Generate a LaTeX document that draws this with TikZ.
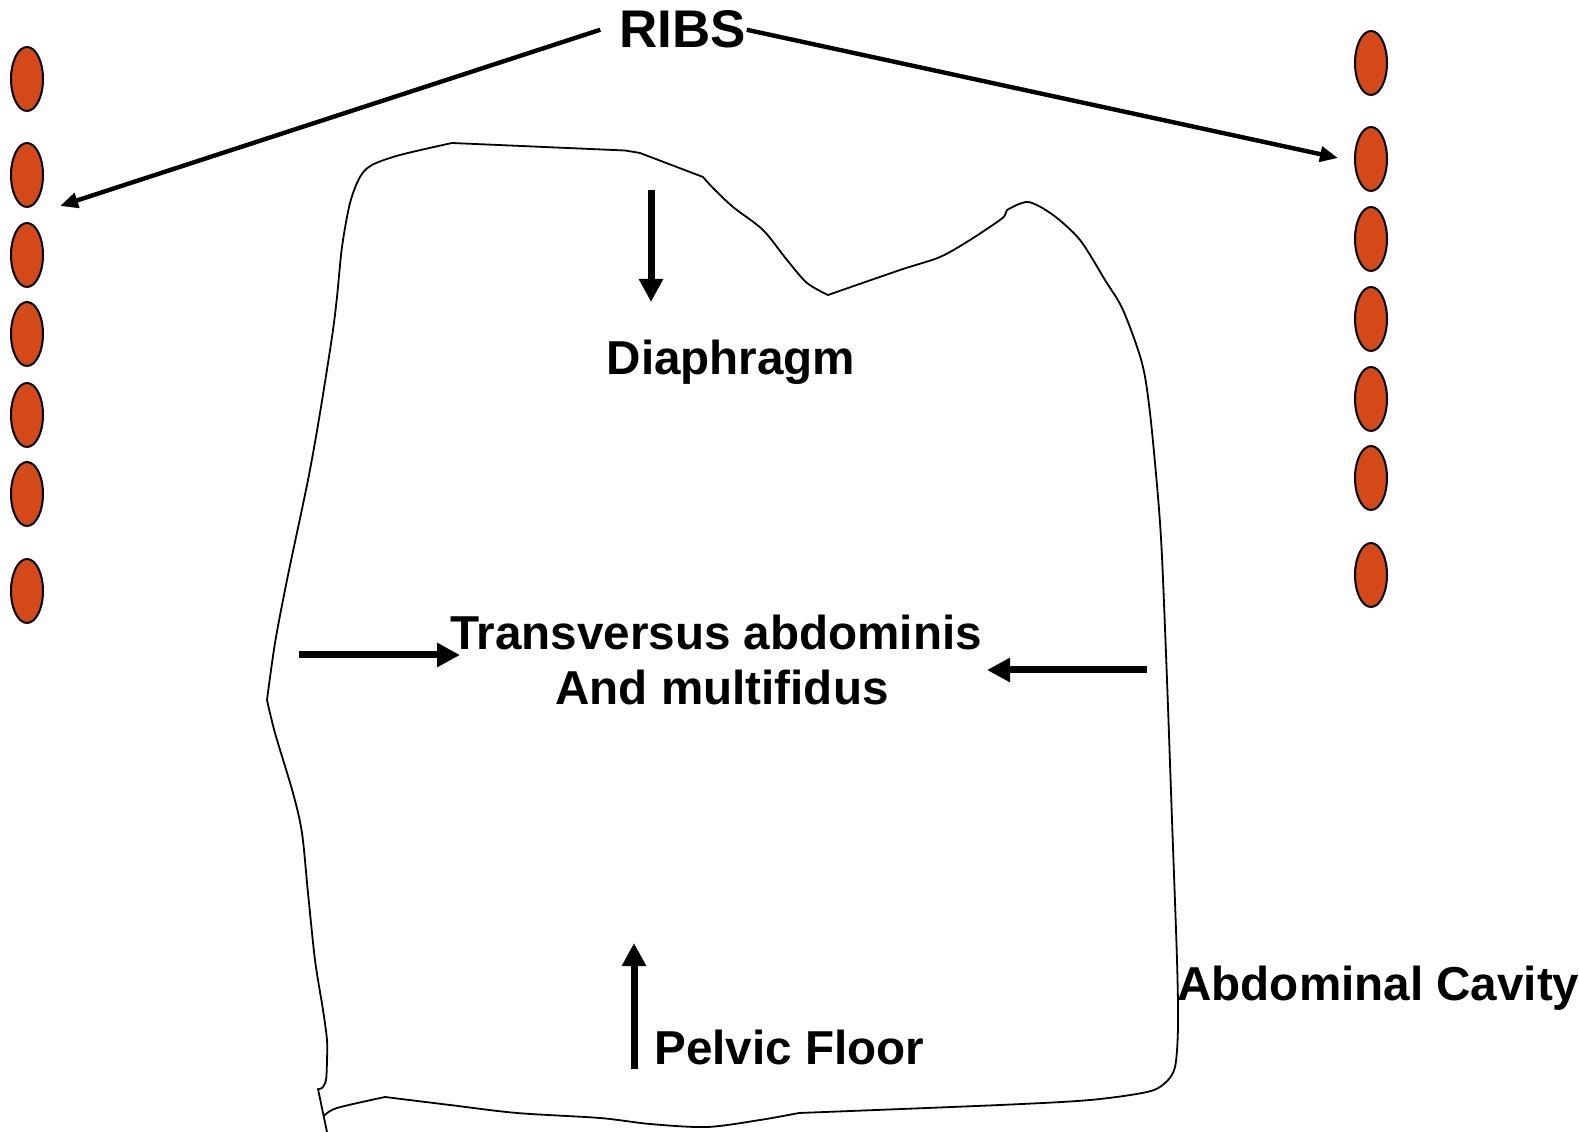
\documentclass[tikz,border=0pt]{standalone}
\usepackage{fontspec}
\setmainfont{Liberation Sans}
\usetikzlibrary{shapes.geometric}
\usetikzlibrary{arrows.meta}
\definecolor{ribred}{RGB}{211,74,24}

\begin{document}
\begin{tikzpicture}[x=0.5bp, y=-0.5bp,
  rib/.style={ellipse, draw, fill=ribred, line width=1bp,
    minimum width=16bp, minimum height=32bp, inner sep=0pt},
  tag/.style={font=\bfseries\fontsize{23.8bp}{28bp}\selectfont, inner sep=0pt},
  push/.style={line width=3.5bp, -{Triangle[length=11.5bp,width=11.5bp]}},
  pointer/.style={line width=2.2bp, -{Triangle[length=9bp,width=7.5bp]}},
  wall/.style={line width=0.9bp, line join=round}]

\useasboundingbox (0,0) rectangle (1579,1132);

%---------------------------------------
% Ribs
%---------------------------------------
\foreach \y [count=\i] in {79,175,255,334,415,494,591}
  \node[rib] (ribL\i) at (27,\y) {};
\foreach \y [count=\i] in {63,159,239,319,399,478,575}
  \node[rib] (ribR\i) at (1371,\y) {};

\node[tag, font=\bfseries\fontsize{26.5bp}{32bp}\selectfont, anchor=base]
  (ribs) at (683,48) {RIBS};

\coordinate (tipL) at (60,206);
\coordinate (tipR) at (1338,158);
\draw[pointer] ([xshift=-9.5bp]ribs.west) -- (tipL);
\draw[pointer] (ribs.east) -- (tipR);

%---------------------------------------
% Abdominal cavity outline
%---------------------------------------
\draw[wall]
  plot[smooth, tension=0.5] coordinates {(323.6,1116) (337,1108) (385,1097)}
  -- plot[smooth, tension=0.5] coordinates {(385,1097) (450,1105) (517,1113)
      (600,1118) (650,1124) (707,1127) (760,1120) (799,1113)}
  -- plot[smooth, tension=0.5] coordinates {(799,1113) (1000,1105) (1090,1100)
      (1147,1092) (1165,1083) (1175,1067) (1178,1027) (1177,960) (1172,820)
      (1167,680) (1162,557) (1158,497) (1150,413) (1142,363)
      (1123,310) (1105,280) (1080,240) (1053,215) (1028,202) (1007,210)}
  -- plot[smooth, tension=0.5] coordinates {(1005,215) (1000,220) (970,240)
      (940,257) (900,270) (828,295)}
  -- plot[smooth, tension=0.5] coordinates {(828,295) (807,283) (787,260)
      (763,230) (733,207) (713,188) (703,177)}
  -- (640,153) -- (625,150.5) -- (452,143)
  -- plot[smooth, tension=0.5] coordinates {(452,143) (400,155) (372,165)
      (360,177) (350,203) (342,247) (337,297) (332,337) (320,413) (308,480)
      (287,580) (275,643) (267,700)}
  -- plot[smooth, tension=0.5] coordinates {(267,700) (275,733) (293,793)
      (302,833) (308,893) (315,960) (323,1010) (327,1040) (327,1060)
      (326,1080) (322,1088) (318,1089)}
  -- (327,1132);

%---------------------------------------
% Labels
%---------------------------------------
\node[tag, anchor=base] (diaph) at (731,375) {Diaphragm};
\node[tag, anchor=base] (trans) at (716,650) {Transversus abdominis};
\node[tag, anchor=base] (multi) at (722,705) {And multifidus};
\node[tag, anchor=base west] (pelvic) at (654,1064) {Pelvic Floor};
\node[tag, anchor=base west] (cavity) at (1177,1000) {Abdominal Cavity};

%---------------------------------------
% Pressure arrows
%---------------------------------------
\coordinate (diaTop) at (651,190);
\coordinate (diaTip) at (651,302);
\coordinate (pelBot) at (634,1069);
\coordinate (pelTip) at (634,943);
\coordinate (sideL) at (299,655);
\coordinate (sideLtip) at (460,655);
\coordinate (sideR) at (1147,670);
\coordinate (sideRtip) at (987,670);

\draw[push] (diaTop) -- (diaTip);
\draw[push] (pelBot) -- (pelTip);
\draw[push] (sideL) -- (sideLtip);
\draw[push] (sideR) -- (sideRtip);

\end{tikzpicture}
\end{document}
